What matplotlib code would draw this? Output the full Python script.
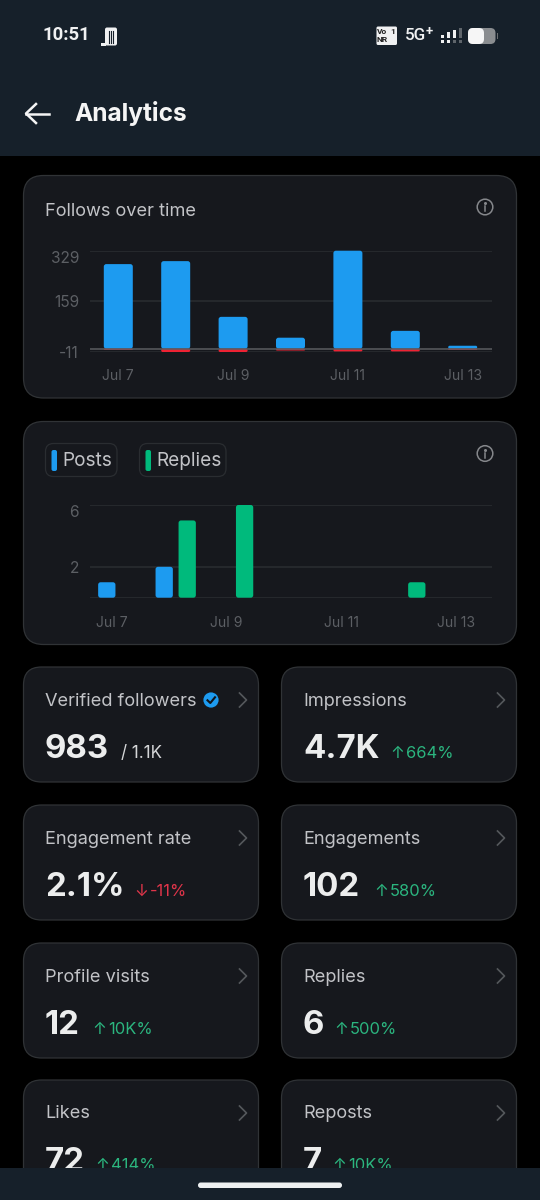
#!/usr/bin/env python3
"""Analytics phone screen: two bar charts and a grid of stat cards."""

import matplotlib

matplotlib.use("Agg")

import matplotlib.pyplot as plt
from matplotlib.patches import Circle, FancyBboxPatch, Rectangle

plt.rcParams["font.family"] = ["Inter", "DejaVu Sans"]

DATES = ["Jul 7", "Jul 8", "Jul 9", "Jul 10", "Jul 11", "Jul 12", "Jul 13"]

FOLLOWS_GAINED = [284, 294, 107, 37, 329, 60, 10]
FOLLOWS_LOST = [-4, -11, -11, -6, -9, -9, -4]
FOLLOW_TICKS = [-11, 159, 329]
FOLLOW_LABELS = ["-11", "159", "329"]

POSTS = [1, 2, 0, 0, 0, 0, 0]
REPLIES = [0, 5, 6, 0, 0, 1, 0]
ACTIVITY_TICKS = [0, 2, 6]
ACTIVITY_LABELS = ["", "2", "6"]

CARD_TITLES = [
    "Verified followers", "Impressions",
    "Engagement rate", "Engagements",
    "Profile visits", "Replies",
    "Likes", "Reposts",
]
CARD_VALUES = ["983", "4.7K", "2.1%", "102", "12", "6", "72", "7"]
CARD_DELTAS = ["/ 1.1K", "664%", "-11%", "580%", "10K%", "500%", "414%", "10K%"]

BG = "#000000"
HEADER = "#16202a"
CARD = "#16181d"
CARD_EDGE = "#303336"
GRID = "#2a2d31"
BLUE = "#1d9bf0"
RED = "#ee2233"
GREEN = "#00ba7c"
UP = "#2bb57f"
DOWN = "#e0354a"
TITLE = "#c2c3c7"
VALUE = "#eceded"
TICK = "#5c5f64"
STATUS = "#f0f1f2"
DIM = "#5f656b"

W, H = 540, 1200

fig = plt.figure(figsize=(W / 100, H / 100), dpi=100, facecolor=BG)
bg = fig.add_axes([0, 0, 1, 1])
bg.set_xlim(0, W)
bg.set_ylim(H, 0)
bg.axis("off")


def pt(px):
    return px * 0.72


def round_box(x0, y0, x1, y1, r, face, edge="none", lw=0.9, zorder=1):
    bg.add_patch(FancyBboxPatch(
        (x0, y0), x1 - x0, y1 - y0,
        boxstyle=f"round,pad=0,rounding_size={r}",
        facecolor=face, edgecolor=edge, linewidth=lw, zorder=zorder,
    ))


def px_axes(x0, y0, x1, y1):
    ax = fig.add_axes([x0 / W, 1 - y1 / H, (x1 - x0) / W, (y1 - y0) / H])
    ax.patch.set_alpha(0)
    for s in ax.spines.values():
        s.set_visible(False)
    return ax


def rounded_bars(ax, xs, heights, width, color, radius=2.5, zorder=3):
    """Bars with rounded corners, in data units of ax."""
    box = ax.get_position()
    xlim, ylim = ax.get_xlim(), ax.get_ylim()
    px_x = box.width * W / (xlim[1] - xlim[0])
    px_y = box.height * H / (ylim[1] - ylim[0])
    for x, h in zip(xs, heights):
        if h == 0:
            continue
        r = min(radius, abs(h) * px_y / 2)
        ax.add_patch(FancyBboxPatch(
            (x - width / 2, min(0, h)), width, abs(h),
            boxstyle=f"round,pad=0,rounding_size={r / px_x}",
            mutation_aspect=px_x / px_y,
            facecolor=color, edgecolor="none", zorder=zorder, clip_on=False,
        ))


def style_chart(ax, yticks, ylabels, xticks, xlabels, xpad):
    ax.set_yticks(yticks)
    ax.set_yticklabels(ylabels)
    ax.set_xticks(xticks)
    ax.set_xticklabels(xlabels)
    ax.tick_params(axis="y", length=0, pad=8, labelcolor=TICK, labelsize=pt(15.5))
    ax.tick_params(axis="x", length=0, pad=xpad, labelcolor=TICK, labelsize=pt(14))
    ax.grid(True, axis="y", color=GRID, linewidth=1.1)
    ax.set_axisbelow(True)
    # the top label sits under its grid line in the app
    ax.get_yticklabels()[-1].set_va("top")


def info_icon(x, y):
    bg.add_patch(Circle((x, y), 7.8, facecolor="none", edgecolor="#85878b", linewidth=1.1, zorder=3))
    bg.plot([x, x], [y - 1, y + 4], color="#85878b", linewidth=1.1, zorder=3)
    bg.plot([x], [y - 3.6], marker="o", markersize=1.2, color="#85878b", zorder=3)


def chevron(x, y):
    bg.plot([x, x + 7, x], [y - 7, y, y + 7], color="#55585c", linewidth=1.2, zorder=3)


# top bar and status bar
bg.add_patch(Rectangle((0, 0), W, 156, facecolor=HEADER, edgecolor="none", zorder=1))
bg.text(43, 35, "10:51", color=STATUS, fontsize=pt(18.5), fontweight="semibold",
        family=["Roboto", "DejaVu Sans"], va="center", zorder=3)
round_box(105, 27.5, 117, 45.5, 2, STATUS, zorder=3)
bg.add_patch(Rectangle((100.5, 43), 5, 2.5, facecolor=STATUS, zorder=3))
for sx in (108.5, 110.7, 112.9):
    bg.plot([sx, sx], [31, 43], color=HEADER, linewidth=0.8, zorder=4)

round_box(376.5, 26.5, 397, 45, 1.5, STATUS, zorder=3)
for sx, sy, s in [(382, 31.5, "Vo"), (382, 40, "NR"), (393, 31.5, "1")]:
    bg.text(sx, sy, s, color="#222", fontsize=6, fontweight="bold",
            family=["Roboto"], ha="center", va="center", zorder=4)
bg.text(404.5, 36, "5G", color=STATUS, fontsize=pt(17), fontweight="medium",
        family=["Roboto"], va="center", zorder=3)
bg.text(426, 32, "+", color=STATUS, fontsize=pt(13), fontweight="bold",
        family=["Roboto"], va="center", zorder=3)
SIGNAL = [(442.3, 34.5, 37.5, STATUS, STATUS), (448.3, 32, 37.5, STATUS, STATUS),
          (454.3, 30, 37.5, STATUS, DIM), (460.3, 28, 37.5, DIM, DIM)]
for sx, top, bottom, upper, lower in SIGNAL:
    bg.add_patch(Rectangle((sx - 1.7, top), 3.4, bottom - top, facecolor=upper, zorder=3))
    bg.add_patch(Rectangle((sx - 1.7, 40), 3.4, 3.4, facecolor=lower, zorder=3))
round_box(468, 28, 495.5, 44, 5, "#8a8d90", zorder=3)
round_box(468, 28, 484, 44, 5, "#f6f6f6", zorder=4)
bg.add_patch(Rectangle((496.5, 33), 1.5, 6, facecolor="#6b6e71", zorder=3))

bg.plot([26, 49], [113.5, 113.5], color="#f5f5f5", linewidth=1.8, zorder=3)
bg.plot([36, 26, 36], [104, 113.5, 123], color="#f5f5f5", linewidth=1.8, zorder=3)
bg.text(74.5, 114, "Analytics", color="#f5f5f5", fontsize=pt(24.5), fontweight="bold",
        va="center", zorder=3)

# chart cards
round_box(23.5, 175.5, 516.5, 398, 20, CARD, CARD_EDGE)
round_box(23.5, 421.5, 516.5, 644.5, 20, CARD, CARD_EDGE)
bg.text(45, 211, "Follows over time", color=TITLE, fontsize=pt(18.2), va="center", zorder=3)
info_icon(485, 207)
info_icon(485, 453.5)

for x0, x1, mx, label, color in [(45.5, 117, 51.5, "Posts", BLUE), (139.5, 226, 145.5, "Replies", GREEN)]:
    round_box(x0, 443.5, x1, 476.5, 8, CARD, "#2a2d31", zorder=2)
    round_box(mx, 450, mx + 5.5, 471, 2, color, zorder=3)
    bg.text(mx + 11, 461, label, color=TITLE, fontsize=pt(19), va="center", zorder=3)

# follows chart
days = list(range(len(DATES)))
STEP = 57.4
left = (90 - 118.3) / STEP
right = (492 - 118.3) / STEP

ax1 = px_axes(90, 250.7, 492, 352)
ax1.set_xlim(left, right)
ax1.set_ylim(FOLLOW_TICKS[0], FOLLOW_TICKS[-1])
style_chart(ax1, FOLLOW_TICKS, FOLLOW_LABELS, days[::2], DATES[::2], 12)
rounded_bars(ax1, days, FOLLOWS_GAINED, 29 / STEP, BLUE, zorder=3)
rounded_bars(ax1, days, FOLLOWS_LOST, 29 / STEP, RED, radius=1.5, zorder=4)
ax1.axhline(0, color="#5a5d60", linewidth=1.1, zorder=5)

# posts and replies chart
ax2 = px_axes(90, 505, 492, 597.7)
ax2.set_xlim(left, right)
ax2.set_ylim(ACTIVITY_TICKS[0], ACTIVITY_TICKS[-1])
style_chart(ax2, ACTIVITY_TICKS, ACTIVITY_LABELS, [d - 0.115 for d in days[::2]], DATES[::2], 13)
offset = 11.5 / STEP
rounded_bars(ax2, [d - offset for d in days], POSTS, 17.3 / STEP, BLUE)
rounded_bars(ax2, [d + offset for d in days], REPLIES, 17.3 / STEP, GREEN)

# stat cards
ROW_TOPS = [667, 805, 943, 1080]
COL_LEFTS = [23.5, 281.5]
VALUE_ENDS = [120, 391, 135, 375, 93, 335, 96, 333]

for i, title in enumerate(CARD_TITLES):
    x = COL_LEFTS[i % 2]
    y = ROW_TOPS[i // 2]
    round_box(x, y, x + 235, y + 115, 18, CARD, CARD_EDGE)
    tx = x + 21.5
    bg.text(tx, y + 34, title, color=TITLE, fontsize=pt(18.2), va="center", zorder=3)
    chevron(x + 216, y + 33)
    bg.text(tx, y + 91, CARD_VALUES[i], color=VALUE, fontsize=pt(33), fontweight="bold",
            va="baseline", zorder=3)
    delta = CARD_DELTAS[i]
    dx = VALUE_ENDS[i]
    if delta.startswith("/"):
        bg.text(dx + 1, y + 90.5, delta, color="#d5d6d8", fontsize=pt(17), va="baseline", zorder=3)
    else:
        down = delta.startswith("-")
        color = DOWN if down else UP
        bg.text(dx - 1, y + 90.5, "↓" if down else "↑", color=color, fontsize=pt(16.5),
                va="baseline", zorder=3)
        bg.text(dx + 15, y + 90.5, delta, color=color, fontsize=pt(16.5), va="baseline", zorder=3)

# verified badge
bg.add_patch(Circle((211, 700), 7.6, facecolor=BLUE, edgecolor="none", zorder=3))
bg.plot([207.5, 210.3, 215], [700.3, 703, 697.3], color="#10151c", linewidth=1.5, zorder=4)

# bottom navigation bar covers the last card row
bg.add_patch(Rectangle((0, 1168), W, 32, facecolor=HEADER, edgecolor="none", zorder=10))
round_box(198, 1182.5, 342, 1188, 2.7, "#eef0f1", zorder=11)

fig.savefig("out.png", dpi=100, facecolor=BG)
